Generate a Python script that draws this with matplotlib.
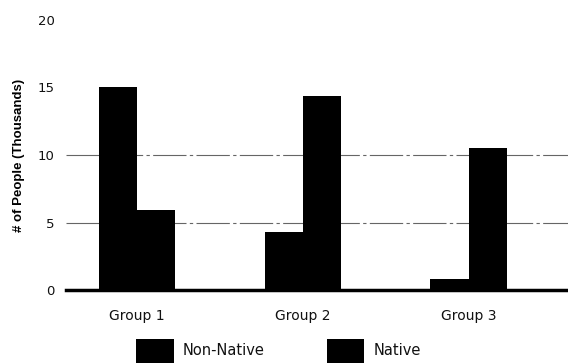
import matplotlib.pyplot as plt
import numpy as np

# Data
groups = ["Group 1", "Group 2", "Group 3"]
non_native = [15.0, 4.3, 0.8]
native = [5.9, 14.4, 10.5]
series_labels = ["Non-Native", "Native"]
y_ticks = [0, 5, 10, 15, 20]

fig = plt.figure(figsize=(5.68, 3.63), dpi=100)
ax = fig.add_axes([0.116, 0.201, 0.884, 0.744])

x = np.arange(len(groups))
w = 0.23
b1 = ax.bar(x - w / 2, non_native, w, color="black", label=series_labels[0], zorder=3)
b2 = ax.bar(x + w / 2, native, w, color="black", label=series_labels[1], zorder=3)

# gridlines only at 5 and 10, as in the scan
for yv in [5, 10]:
    ax.axhline(yv, color="#666666", lw=0.8, ls=(0, (30, 3, 3, 3)), zorder=1)

ax.set_xlim(-0.43, 2.6)
ax.set_ylim(0, 20)
ax.set_yticks(y_ticks)
ax.set_xticks(x)
ax.set_xticklabels(groups, fontsize=10)
ax.tick_params(axis="both", length=0, colors="#111111")
ax.tick_params(axis="y", pad=8, labelsize=9.5)
ax.tick_params(axis="x", pad=14)

for side in ["top", "right", "left"]:
    ax.spines[side].set_visible(False)
ax.spines["bottom"].set_linewidth(2.5)
ax.spines["bottom"].set_color("black")

ax.set_ylabel("# of People (Thousands)", fontsize=9.5, fontweight="bold",
              family=["Liberation Sans Narrow", "Liberation Sans", "DejaVu Sans"], labelpad=9)

fig.legend(handles=[b1, b2], loc="lower left", bbox_to_anchor=(136 / 568, 0.0),
           ncol=2, frameon=False, fontsize=10.5, handlelength=2.6, handleheight=2.2,
           handletextpad=0.6, columnspacing=4.25, borderpad=0, borderaxespad=0,
           labelcolor="#111111")

fig.savefig("out.png", dpi=100)
